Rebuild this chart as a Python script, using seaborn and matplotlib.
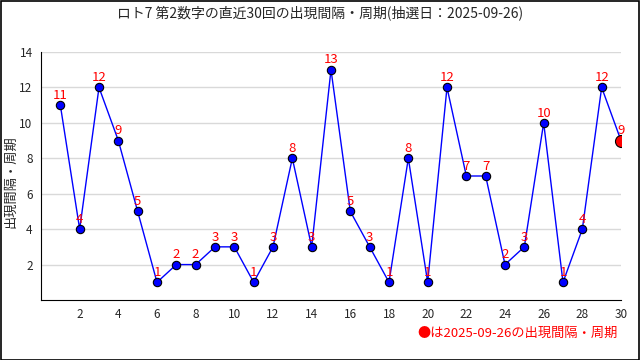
import pandas as pd
import matplotlib.pyplot as plt
import seaborn as sns
from matplotlib.ticker import MultipleLocator

# data
draws = list(range(1, 31))
intervals = [11, 4, 12, 9, 5, 1, 2, 2, 3, 3, 1, 3, 8, 3, 13, 5, 3, 1, 8, 1,
             12, 7, 7, 2, 3, 10, 1, 4, 12, 9]
title = 'ロト7 第2数字の直近30回の出現間隔・周期(抽選日：2025-09-26)'
ylabel = '出現間隔・周期'
note = '●は2025-09-26の出現間隔・周期'

df = pd.DataFrame({'draw': draws, 'interval': intervals})

sns.set_style('white')
plt.rcParams['font.family'] = ['Noto Sans CJK JP', 'DejaVu Sans']

fig = plt.figure(figsize=(6.4, 3.6), dpi=100)
ax = fig.add_axes([41 / 640, 60 / 360, 580 / 640, 248 / 360])

sns.lineplot(data=df, x='draw', y='interval', ax=ax, color='blue', lw=1,
             marker='o', markersize=6, markerfacecolor='blue',
             markeredgecolor='black', markeredgewidth=0.8, zorder=3)
last = df.iloc[[-1]]
sns.scatterplot(data=last, x='draw', y='interval', ax=ax, color='red',
                edgecolor='black', linewidth=0.8, s=75, zorder=4)

for d, v in zip(draws, intervals):
    ax.annotate(str(v), (d, v), xytext=(0, 4.5), textcoords='offset points',
                ha='center', va='baseline', color='red', fontsize=9.5)

ax.set_xlim(0, 30)
ax.set_ylim(0, 14)
ax.xaxis.set_minor_locator(MultipleLocator(1))
ax.yaxis.set_minor_locator(MultipleLocator(1))
ax.set_xticks([t for t in range(2, 31, 2)])
ax.set_yticks([t for t in range(2, 15, 2)])
ax.tick_params(which='major', direction='in', length=5, width=0.8, labelsize=8.5, pad=6)
ax.tick_params(which='minor', direction='in', length=3, width=0.8)
ax.yaxis.grid(True, color='#d9d9d9', lw=1)
ax.set_axisbelow(True)
for s in ['top', 'right']:
    ax.spines[s].set_visible(False)
for s in ['left', 'bottom']:
    ax.spines[s].set_color('black')
    ax.spines[s].set_linewidth(0.8)
ax.set_xlabel('')
ax.set_ylabel('')
fig.text(11 / 640, 0.5 - 2 / 360, ylabel, rotation=90, ha='center', va='center',
         fontsize=9.5)

fig.text(0.5, 1 - 13 / 360, title, ha='center', va='center', fontsize=10)
fig.text(618 / 640, 1 - 333 / 360, note, ha='right', va='center',
         color='red', fontsize=9.5)

fig.patches.append(plt.Rectangle((0.001, 0.001), 0.997, 0.997, transform=fig.transFigure,
                                 fill=False, edgecolor='black', lw=1.2))

fig.savefig('out.png', dpi=100)
